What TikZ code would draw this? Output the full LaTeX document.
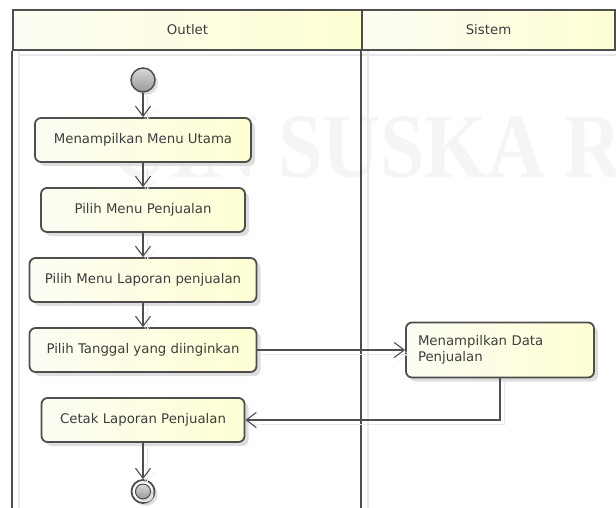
\documentclass[tikz,border=0pt]{standalone}
\usepackage{fontspec}
\setmainfont{DejaVu Sans}
\newfontfamily\markfont{Liberation Serif}
\usetikzlibrary{arrows.meta,positioning,shadows}

\definecolor{boxleft}{RGB}{252,252,243}
\definecolor{boxright}{RGB}{255,255,212}
\definecolor{linegray}{RGB}{78,78,78}
\definecolor{textgray}{RGB}{62,62,62}
\definecolor{markgray}{RGB}{245,245,248}

\begin{document}
\begin{tikzpicture}[x=1pt,y=-1pt,
            every node/.style={font=\fontsize{13.3}{16}\selectfont,text=textgray},
            lane/.style={draw=linegray,line width=2.4pt},
            head/.style={lane,left color=boxleft,right color=boxright,minimum height=40pt},
            act/.style={draw=linegray,line width=1.8pt,rounded corners=6pt,minimum height=44pt,
              left color=boxleft,right color=boxright,node distance=70pt,
              drop shadow={shadow xshift=4pt,shadow yshift=-4pt,fill=black!13,opacity=1}},
            dot/.style={circle,draw=linegray,line width=1.5pt,inner sep=0pt,
              top color=gray!30,bottom color=gray!80,
              drop shadow={shadow xshift=3pt,shadow yshift=-3pt,fill=black!13,opacity=1}},
            flow/.style={draw=linegray,line width=1.1pt,-{Straight Barb[length=10pt,width=15pt]},
              preaction={draw=black!9,transform canvas={shift={(4pt,-4pt)}}}},
            every edge/.style={flow}
          ]
          \useasboundingbox (0,0) rectangle (616,508);

          %watermark
          \node[font=\markfont\bfseries\fontsize{80}{80}\selectfont,text=markgray,anchor=base west,
            transform shape,yscale=1.15] (mark) at (108,178) {UIN SUSKA R};

          %swimlanes
          \draw[black!9,line width=2pt] (19,14) -- (19,508) (368,14) -- (368,508) (19,55) -- (616,55);
          \node[head,minimum width=349pt] (outlet) at (187.5,30) {Outlet};
          \node[head,minimum width=253pt] (sistem) at (488.5,30) {Sistem};
          \draw[lane] (outlet.south west) -- (outlet.south west |- 0,520);
          \draw[lane] (sistem.south west) -- (sistem.south west |- 0,520);

          %outlet
          \node[dot,minimum size=24pt] (start) at (143,80) {};
          \node[act,minimum width=216pt,below of=start,node distance=60pt] (menu) {Menampilkan Menu Utama};
          \node[act,minimum width=204pt,below of=menu] (penjualan) {Pilih Menu Penjualan};
          \node[act,minimum width=227pt,below of=penjualan] (laporan) {Pilih Menu Laporan penjualan};
          \node[act,minimum width=227pt,below of=laporan] (tanggal) {Pilih Tanggal yang diinginkan};
          \node[act,minimum width=203pt,below of=tanggal] (cetak) {Cetak Laporan Penjualan};
          \node[circle,draw=linegray,line width=1.8pt,fill=white,minimum size=23pt,inner sep=0pt,
            below of=cetak,node distance=71.5pt,
            drop shadow={shadow xshift=3pt,shadow yshift=-3pt,fill=black!13,opacity=1}] (stop) {};
          \node[dot,minimum size=15pt,line width=1pt,drop shadow={opacity=0}] (stopdot) at (stop) {};

          %sistem
          \node[act,text width=164pt,inner xsep=12pt,minimum height=55pt,align=left,
            right of=tanggal,node distance=357pt] (data) {Menampilkan Data\\Penjualan};

          \path
          (start) edge (menu)
          (menu) edge (penjualan)
          (penjualan) edge (laporan)
          (laporan) edge (tanggal)
          (tanggal) edge (data)
          (cetak) edge (stop)
          ;
          \draw[flow] (data) |- (cetak);

      \end{tikzpicture}
\end{document}
